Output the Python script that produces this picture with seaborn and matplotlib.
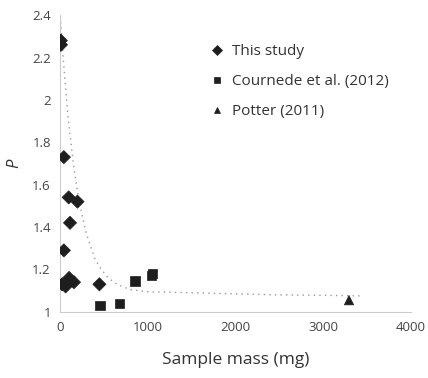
import matplotlib
matplotlib.use("Agg")
import matplotlib.pyplot as plt
import seaborn as sns
import pandas as pd

# --- data ---
this_x = [10, 12, 45, 100, 200, 115, 45, 25, 65, 105, 160, 450]
this_y = [2.28, 2.26, 1.73, 1.54, 1.52, 1.42, 1.29, 1.13, 1.12, 1.16, 1.14, 1.13]
cour_x = [455, 680, 855, 1040, 1055]
cour_y = [1.03, 1.04, 1.145, 1.17, 1.18]
pot_x = [3295]
pot_y = [1.055]
curve_x = [0, 10, 35, 90, 150, 195, 250, 300, 400, 455, 550, 650, 800, 1000, 1500, 2000, 2500, 3000, 3450]
curve_y = [2.42, 2.36, 2.21, 1.93, 1.71, 1.58, 1.46, 1.37, 1.25, 1.21, 1.16, 1.13, 1.105, 1.095, 1.09, 1.085, 1.08, 1.078, 1.075]
labels = ["This study", "Cournede et al. (2012)", "Potter (2011)"]

df = pd.DataFrame({
    "mass": this_x + cour_x + pot_x,
    "P": this_y + cour_y + pot_y,
    "source": [labels[0]] * len(this_x) + [labels[1]] * len(cour_x) + [labels[2]] * len(pot_x),
})

sns.set_theme(style="white")
plt.rcParams["font.family"] = ["Open Sans", "DejaVu Sans"]

fig = plt.figure(figsize=(4.28, 3.78), dpi=100)
ax = fig.add_axes([0.140, 0.175, 0.820, 0.785])

ax.plot(curve_x, curve_y, linestyle=(0, (1, 3)), color="#9a9a9a", linewidth=1.0, zorder=1)

sns.scatterplot(data=df, x="mass", y="P", style="source", hue="source",
                palette=["#1e1e1e"] * 3, markers=["D", "s", "^"],
                s=45, edgecolor="#1e1e1e", linewidth=0.5, ax=ax, zorder=3)

ax.set_xlim(0, 4000)
ax.set_ylim(1, 2.4)
ax.set_xticks([0, 1000, 2000, 3000, 4000])
ax.set_yticks([1, 1.2, 1.4, 1.6, 1.8, 2, 2.2, 2.4])
ax.set_yticklabels(["1", "1.2", "1.4", "1.6", "1.8", "2", "2.2", "2.4"])

for s in ["top", "right"]:
    ax.spines[s].set_visible(False)
for s in ["left", "bottom"]:
    ax.spines[s].set_color("#cccccc")
    ax.spines[s].set_linewidth(0.8)
ax.tick_params(axis="both", direction="out", length=3.5, width=0.8, color="#cccccc",
               labelsize=9.5, labelcolor="#444444", pad=3)

ax.set_xlabel("Sample mass (mg)", fontsize=12.5, color="#333333", labelpad=13)
ax.set_ylabel("P", fontsize=12, color="#333333", style="italic", labelpad=7)

handles, labs = ax.get_legend_handles_labels()
leg = ax.legend(handles, labs, frameon=False, loc="upper left",
                bbox_to_anchor=(0.465, 0.90), bbox_transform=fig.transFigure,
                fontsize=11, labelspacing=1.0, handletextpad=0.15, markerscale=0.7,
                handlelength=1.6, borderaxespad=0)
for t in leg.get_texts():
    t.set_color("#333333")

fig.savefig("out.png", dpi=100)
